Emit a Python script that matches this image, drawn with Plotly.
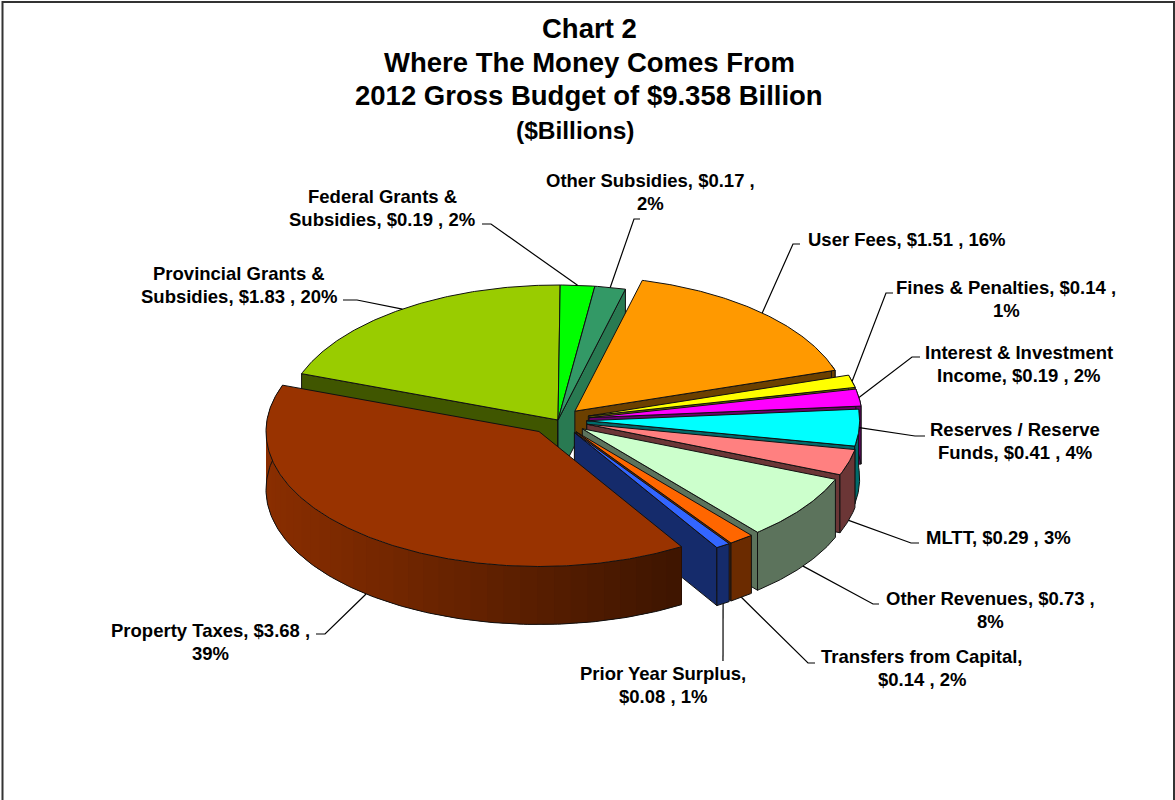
import numpy as np
import plotly.graph_objects as go

# Budget sources in $ billions, clockwise from the first slice after twelve o'clock
names = ["User Fees", "Fines & Penalties", "Interest & Investment Income",
         "Reserves / Reserve Funds", "MLTT", "Other Revenues",
         "Transfers from Capital", "Prior Year Surplus", "Property Taxes",
         "Provincial Grants & Subsidies", "Federal Grants & Subsidies", "Other Subsidies"]
values = [1.51, 0.14, 0.19, 0.41, 0.29, 0.73, 0.14, 0.08, 3.68, 1.83, 0.19, 0.17]
percents = [16, 1, 2, 4, 3, 8, 2, 1, 39, 20, 2, 2]

colors = ["#FF9900", "#FFFF00", "#FF00FF", "#00FFFF", "#FF8080", "#CCFFCC",
          "#FF6600", "#3366FF", "#993300", "#99CC00", "#00FF00", "#339966"]
explode = [0.09, 0.115, 0.115, 0.105, 0.11, 0.11, 0.11, 0.11, 0.11, 0, 0, 0]
wall_shade = [0.42, 0.42, 0.42, 0.42, 0.42, 0.45, 0.42, 0.42, 0.5, 0.42, 0.42, 0.8]

# Projection of the pie onto the page
CX, CY, RX, RY, DEPTH = 558, 420, 273, 135, 58
START_DEG = 14.3
EDGE = "#111111"

title_lines = [("Chart 2", 589, 28, 27.5), ("Where The Money Comes From", 589, 62, 27.5),
               ("2012 Gross Budget of $9.358 Billion", 589, 95, 27.5),
               ("($Billions)", 575, 130, 24.5)]

# Where each label wraps, its centre and first row, and the leader's elbow points
wrap_before = ["", "1%", "Income,", "Funds,", "", "8%", "$0.14", "$0.08", "39%",
               "Subsidies,", "Subsidies,", "2%"]
label_pos = [(906, 239), (1006, 287), (1019, 352), (1015, 429), (998, 537), (990, 598),
             (922, 656), (663, 673), (210, 630), (239, 273), (382, 196), (650, 180)]
elbows = [[(793, 244), (800, 244)], [(886, 293), (893, 293)], [(912, 357), (920, 357)],
          [(915, 436), (925, 436)], [(911, 543), (919, 543)], [(873, 604), (879, 604)],
          [(808, 663), (815, 663)], [(723, 661)], [(325, 634), (316, 634)],
          [(357, 300), (343, 300)], [(491, 224), (482, 224)], [(634, 219), (640, 219)]]

# Back-to-front drawing order so that nearer slices cover the farther ones
draw_order = [9, 10, 11, 0, 1, 2, 3, 4, 5, 6, 7, 8]


def shade(hex_color, factor):
    r, g, b = (int(hex_color[i:i + 2], 16) for i in (1, 3, 5))
    return f"rgb({r * factor:.0f},{g * factor:.0f},{b * factor:.0f})"


def rim(apex, deg):
    t = np.radians(deg)
    return apex[0] + RX * np.sin(t), apex[1] - RY * np.cos(t)


def poly(fig, xs, ys, fill=None, line=EDGE, width=1.0):
    fig.add_trace(go.Scatter(
        x=list(xs), y=list(ys), mode="lines",
        fill="toself" if fill else "none", fillcolor=fill,
        line=dict(color=line, width=width), hoverinfo="skip", showlegend=False))


# Slice angles follow directly from the values
total = sum(values)
spans = [v / total * 360 for v in values]
starts = [START_DEG + sum(spans[:i]) for i in range(len(values))]
ends = [s + w for s, w in zip(starts, spans)]
mids = [(s + e) / 2 for s, e in zip(starts, ends)]
apexes = []
for e, m in zip(explode, mids):
    t = np.radians(m)
    apexes.append((CX + e * RX * np.sin(t), CY - e * RY * np.cos(t)))

fig = go.Figure()

for i in draw_order:
    apex, s, e, col = apexes[i], starts[i], ends[i], colors[i]
    wall = shade(col, wall_shade[i])

    # Flat radial walls, only those turned towards the viewer
    if np.sin(np.radians(s)) < 0:
        x, y = rim(apex, s)
        poly(fig, [apex[0], x, x, apex[0], apex[0]],
             [apex[1], y, y + DEPTH, apex[1] + DEPTH, apex[1]], wall)
    if np.sin(np.radians(e)) > 0:
        x, y = rim(apex, e)
        poly(fig, [apex[0], x, x, apex[0], apex[0]],
             [apex[1], y, y + DEPTH, apex[1] + DEPTH, apex[1]], wall)

    # Curved outer wall
    lo, hi = max(s, 70), min(e, 290)
    if hi > lo:
        if names[i] == "Property Taxes":
            # Bands overlap the next one so no seams show between them
            edges = np.linspace(lo, hi, 41)
            left = apex[0] - RX
            right = rim(apex, lo)[0]
            for a, b in zip(edges[:-1], edges[1:]):
                arc = np.linspace(a, min(b + 6, hi), 12)
                px, py = rim(apex, arc)
                mid_x = rim(apex, (a + b) / 2)[0]
                frac = np.clip((mid_x - left) / (right - left), 0, 1)
                strip = shade(col, 0.9 - 0.5 * frac)
                poly(fig, np.r_[px, px[::-1], px[0]],
                     np.r_[py, py[::-1] + DEPTH, py[0]], strip, line=strip, width=0)
            px, py = rim(apex, np.linspace(lo, hi, 160))
            poly(fig, px, py + DEPTH)
            poly(fig, [px[0], px[0]], [py[0], py[0] + DEPTH], line="#2a0e00")
            poly(fig, [px[-1], px[-1]], [py[-1], py[-1] + DEPTH], line="#2a0e00")
        else:
            px, py = rim(apex, np.linspace(lo, hi, 60))
            poly(fig, np.r_[px, px[::-1], px[0]],
                 np.r_[py, py[::-1] + DEPTH, py[0]], wall)

    # Top face
    px, py = rim(apex, np.linspace(s, e, max(int(e - s) * 2, 12)))
    poly(fig, np.r_[apex[0], px, apex[0]], np.r_[apex[1], py, apex[1]], col)

annotations = []


def text(s, x, y, size):
    annotations.append(dict(text=f"<b>{s}</b>", x=x, y=y, xref="x", yref="y", showarrow=False,
                            xanchor="center", yanchor="middle",
                            font=dict(family="Liberation Sans", size=size, color="black")))


for s, x, y, size in title_lines:
    text(s, x, y, size)

# Labels and leader lines; a leader starts on the rim at the slice's middle angle
for i, (name, v, p) in enumerate(zip(names, values, percents)):
    label = f"{name}, ${v:.2f} , {p}%"
    if wrap_before[i]:
        head, _, tail = label.rpartition(wrap_before[i])
        rows = [head.rstrip(), wrap_before[i] + tail]
    else:
        rows = [label]
    lx, ly = label_pos[i]
    for k, row in enumerate(rows):
        text(row, lx, ly + 23 * k, 18.5)

    x0, y0 = rim(apexes[i], mids[i])
    if np.cos(np.radians(mids[i])) < -0.1:
        y0 += DEPTH
    path = [(x0, y0)] + elbows[i]
    fig.add_trace(go.Scatter(x=[q[0] for q in path], y=[q[1] for q in path], mode="lines",
                             line=dict(color="black", width=1.2), hoverinfo="skip", showlegend=False))

fig.update_layout(
    width=1175, height=800, margin=dict(l=0, r=0, t=0, b=0),
    paper_bgcolor="white", plot_bgcolor="white",
    xaxis=dict(range=[0, 1175], visible=False, fixedrange=True),
    yaxis=dict(range=[800, 0], visible=False, fixedrange=True),
    annotations=annotations,
    shapes=[dict(type="rect", x0=2.5, y0=2, x1=1174, y1=803,
                 line=dict(color="#333333", width=2))],
)

fig.write_html("out.html")
